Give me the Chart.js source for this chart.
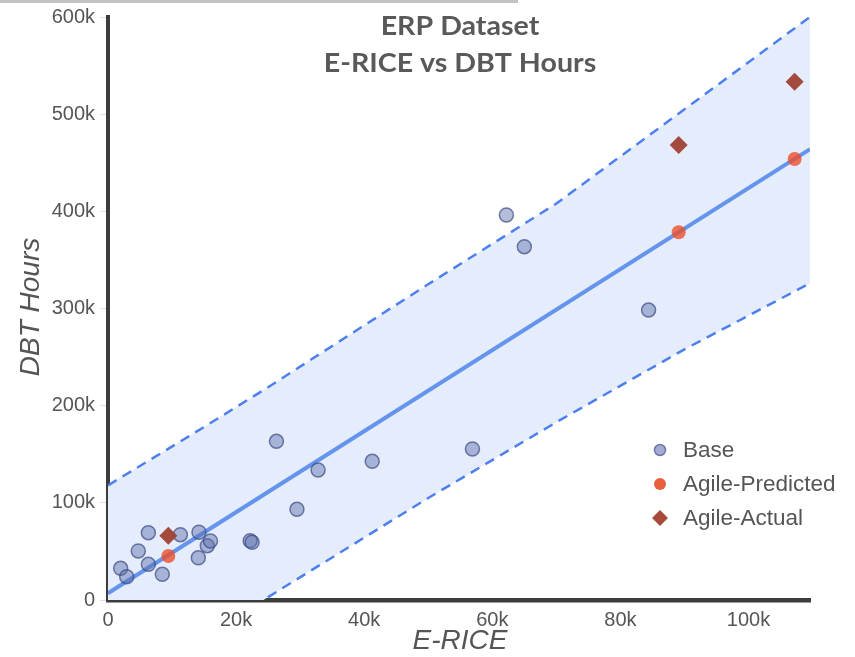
<!DOCTYPE html>
<html>
<head>
<meta charset="utf-8">
<script src="https://cdn.jsdelivr.net/npm/chart.js@4.4.1/dist/chart.umd.min.js"></script>
<style>
    body { margin:0; background:#fff; }
    #wrap { position:relative; width:855px; height:657px; }
    #topBar { position:absolute; left:0; top:0; width:518px; height:3px; background:#c4c4c4; }
</style>
</head>
<body>
<div id="wrap">
    <canvas id="erpChart"></canvas>
    <div id="topBar"></div>
</div>

<script>

// ============================================
// ERP Dataset - E-RICE vs DBT Hours
// ============================================


// Base projects (E-RICE, DBT hours)
const baseX = [
    1980, 2920, 4730, 6300, 6300, 8480, 11300, 14200, 14100, 15500, 16000,
    22200, 22500, 26300, 29500, 32800, 41250, 56900, 62200, 65000, 84400
];
const baseY = [
    32600, 24000, 50400, 69300, 36700, 26400, 67200, 69700, 43500, 55900, 60700,
    61000, 59400, 163300, 93300, 133800, 142700, 155400, 396200, 363600, 298400
];

// Agile projects
const agileX = [9420, 89100, 107200];
const agilePredicted = [45300, 378400, 453800];
const agileActual = [66200, 468200, 533400];

// Regression line and prediction band
const fitX = [0, 109600];
const fitY = [7000, 464000];

const bandX = [0, 15000, 25000, 50000, 70000, 90000, 109600];
const bandUpper = [118000, 178000, 219000, 325000, 408000, 505000, 600000];
const bandLower = [-97000, -38000, 3000, 105000, 183000, 258000, 326000];

// Axis ticks
const xTicks = [0, 20000, 40000, 60000, 80000, 100000];
const yTicks = [0, 100000, 200000, 300000, 400000, 500000, 600000];

const titleLines = ["ERP Dataset", "E-RICE vs DBT Hours"];
const legendLabels = ["Base", "Agile-Predicted", "Agile-Actual"];


const textColor = "#555555";




// ============================================
// Helpers
// ============================================

function toPoints(xs, ys){

    return xs.map((x,i)=>({ x:x, y:ys[i] }));

}

function kLabel(v){

    return v === 0 ? "0" : (v/1000) + "k";

}




// ============================================
// Overlay: title, axis titles, legend
// ============================================

const overlayPlugin = {

    id:"overlay",

    afterDraw(chart){

        const ctx = chart.ctx;

        ctx.save();

        // title (slightly widened, Calibri-like)
        ctx.fillStyle = "#595959";
        ctx.textAlign = "center";
        ctx.textBaseline = "middle";
        ctx.font = "bold 26px Lato";
        ctx.save();
        ctx.translate(460, 0);
        ctx.scale(1.1, 1);
        ctx.fillText(titleLines[0], 0, 27);
        ctx.fillText(titleLines[1], 0, 64);
        ctx.restore();

        // axis titles
        ctx.fillStyle = textColor;
        ctx.font = "italic 28px 'Liberation Sans'";
        ctx.fillText("E-RICE", 460, 641);

        ctx.translate(31, 307);
        ctx.rotate(-Math.PI/2);
        ctx.fillText("DBT Hours", 0, 0);
        ctx.setTransform(1,0,0,1,0,0);

        // legend
        const rows = [450, 484, 518];
        const mx = 660;

        ctx.beginPath();
        ctx.arc(mx, rows[0], 5.5, 0, Math.PI*2);
        ctx.fillStyle = "#a3acd0";
        ctx.fill();
        ctx.lineWidth = 1.5;
        ctx.strokeStyle = "#6b78a8";
        ctx.stroke();

        ctx.beginPath();
        ctx.arc(mx, rows[1], 6, 0, Math.PI*2);
        ctx.fillStyle = "#ea603d";
        ctx.fill();

        ctx.beginPath();
        ctx.moveTo(mx, rows[2]-8);
        ctx.lineTo(mx+8, rows[2]);
        ctx.lineTo(mx, rows[2]+8);
        ctx.lineTo(mx-8, rows[2]);
        ctx.closePath();
        ctx.fillStyle = "#a8493c";
        ctx.fill();

        ctx.fillStyle = textColor;
        ctx.textAlign = "left";
        ctx.font = "22.5px 'Liberation Sans'";
        legendLabels.forEach((t,i)=>{
            ctx.fillText(t, 683, rows[i]+1);
        });

        ctx.restore();

    }

};




// ============================================
// Chart
// ============================================

new Chart(

    document.getElementById("erpChart"),

    {

    type:"scatter",

    data:{

        datasets:[

            {
                label:"Agile-Actual",
                data:toPoints(agileX, agileActual),
                pointStyle:"rectRot",
                pointRadius:9,
                backgroundColor:"rgba(160,64,52,0.95)",
                borderWidth:0,
                order:0
            },

            {
                label:"Agile-Predicted",
                data:toPoints(agileX, agilePredicted),
                pointRadius:7,
                backgroundColor:"rgba(236,78,44,0.8)",
                borderWidth:0,
                order:0
            },

            {
                label:"Base",
                data:toPoints(baseX, baseY),
                pointRadius:7,
                backgroundColor:"rgba(90,108,168,0.45)",
                borderColor:"rgba(58,72,132,0.7)",
                borderWidth:1.5,
                order:0
            },

            {
                label:"Fit",
                data:toPoints(fitX, fitY),
                showLine:true,
                pointRadius:0,
                borderColor:"#6494ec",
                borderWidth:4,
                order:1
            },

            {
                label:"Upper",
                data:toPoints(bandX, bandUpper),
                showLine:true,
                pointRadius:0,
                borderColor:"#4d80ee",
                borderWidth:2.5,
                borderDash:[10,7],
                backgroundColor:"#e5edfc",
                fill:"+1",
                order:3
            },

            {
                label:"Lower",
                data:toPoints(bandX, bandLower),
                showLine:true,
                pointRadius:0,
                borderColor:"#4d80ee",
                borderWidth:2.5,
                borderDash:[10,7],
                order:2
            }

        ]

    },

    options:{

        responsive:true,
        maintainAspectRatio:false,
        animation:false,

        layout:{
            padding:{ top:17, right:45, bottom:0, left:0 }
        },

        plugins:{
            legend:{ display:false },
            tooltip:{ enabled:false },
            title:{ display:false }
        },

        scales:{

            x:{
                type:"linear",
                min:0,
                max:109600,
                afterFit(scale){ scale.height = 57; },
                afterBuildTicks(scale){
                    scale.ticks = xTicks.map(v=>({ value:v }));
                },
                ticks:{
                    includeBounds:false,
                    maxRotation:0,
                    padding:8,
                    color:textColor,
                    font:{ family:"'Liberation Sans'", size:20 },
                    callback:kLabel
                },
                grid:{
                    drawOnChartArea:false,
                    drawTicks:false
                },
                border:{
                    color:"#3d3d3d",
                    width:4.5
                }
            },

            y:{
                type:"linear",
                min:0,
                max:600000,
                afterFit(scale){ scale.width = 108; },
                afterBuildTicks(scale){
                    scale.ticks = yTicks.map(v=>({ value:v }));
                },
                ticks:{
                    padding:5,
                    color:textColor,
                    font:{ family:"'Liberation Sans'", size:20 },
                    callback:kLabel
                },
                grid:{
                    drawOnChartArea:false,
                    drawTicks:true,
                    tickLength:8,
                    color:"#dedede"
                },
                border:{
                    color:"#3d3d3d",
                    width:4
                }
            }

        }

    },

    plugins:[overlayPlugin]

    }

);

</script>
</body>
</html>
